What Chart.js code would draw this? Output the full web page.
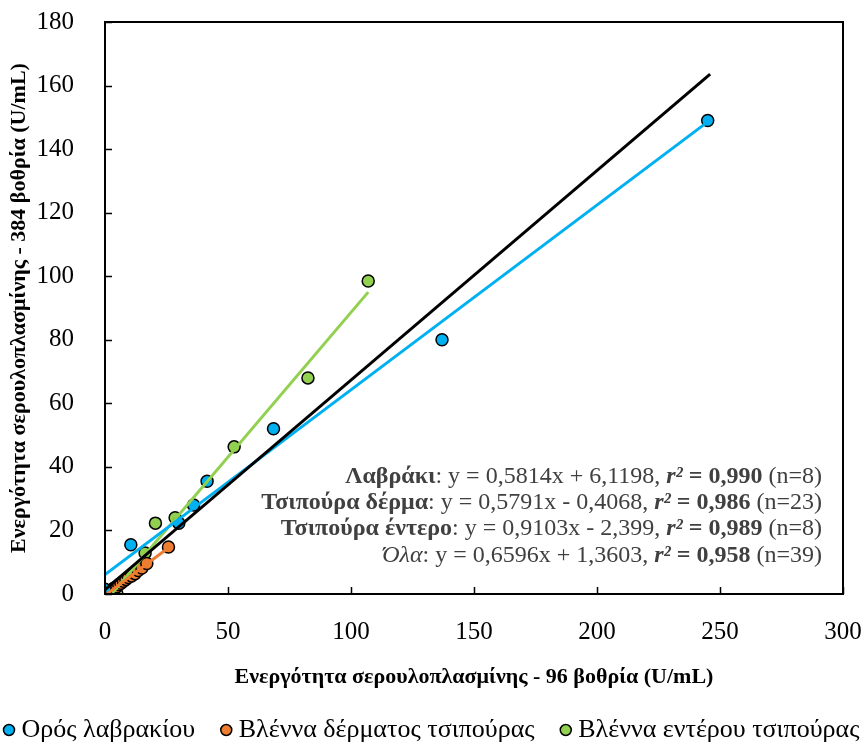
<!DOCTYPE html>
<html>
<head>
<meta charset="utf-8">
<script src="https://cdn.jsdelivr.net/npm/chart.js@4.4.1/dist/chart.umd.min.js"></script>
<style>
  html, body { margin: 0; padding: 0; background: #fff; }
  #wrap { width: 863px; height: 745px; }
</style>
</head>
<body>
<div id="wrap"><canvas id="chart1" width="863" height="745"></canvas></div>
<script>
// Λαβράκι (ορός)
let blueX = [0, 10.5, 30, 36, 41.5, 68.5, 137, 245]
let blueY = [1.5, 15.5, 22.3, 28, 35.5, 52, 80, 149]
// Τσιπούρα δέρμα
let orangeX = [0.2, 0.4, 0.6, 0.9, 1.2, 1.5, 1.9, 2.3, 2.8, 3.3, 4, 4.8, 5.6, 6.5, 7.5, 8.5, 9.5, 10.8, 12.2, 13.5, 15, 17, 25.8]
let orangeY = [0, 0.1, 0.2, 0.3, 0.4, 0.5, 0.7, 1, 1.3, 1.6, 2, 2.3, 2.9, 3.4, 4, 4.6, 5.2, 5.7, 6.4, 7.4, 8.2, 9.6, 14.8]
// Τσιπούρα έντερο
let greenX = [3, 4.9, 16.3, 20.5, 28.5, 52.5, 82.5, 107]
let greenY = [0.5, 0, 12.9, 22.3, 24, 46.3, 68, 98.5]

let seriesNames = ['Ορός λαβρακίου', 'Βλέννα δέρματος τσιπούρας', 'Βλέννα εντέρου τσιπούρας']
let seriesColors = ['#00B0F0', '#ED7D31', '#92D050']

// trend lines: slope, intercept, x range
let trendSlope = [0.5814, 0.5791, 0.9103, 0.6596]
let trendIntercept = [6.1198, -0.4068, -2.399, 1.3603]
let trendFrom = [0, 0, 3, 0]
let trendTo = [245, 25.8, 107, 246]
let trendColors = ['#00B0F0', '#ED7D31', '#92D050', '#000000']

let xTicks = [0, 50, 100, 150, 200, 250, 300]
let yTicks = [0, 20, 40, 60, 80, 100, 120, 140, 160, 180]

let annoLines = [
  [['Λαβράκι', 'bold'], [': y = 0,5814x + 6,1198, ', ''], ['r²', 'italic bold'], [' = 0,990', 'bold'], [' (n=8)', '']],
  [['Τσιπούρα δέρμα', 'bold'], [': y = 0,5791x - 0,4068, ', ''], ['r²', 'italic bold'], [' = 0,986', 'bold'], [' (n=23)', '']],
  [['Τσιπούρα έντερο', 'bold'], [': y = 0,9103x - 2,399, ', ''], ['r²', 'italic bold'], [' = 0,989', 'bold'], [' (n=8)', '']],
  [['Όλα', 'italic'], [': y = 0,6596x + 1,3603, ', ''], ['r²', 'italic bold'], [' = 0,958', 'bold'], [' (n=39)', '']]
]

const FONT = '"Liberation Serif", "Times New Roman", serif'
Chart.defaults.font.family = FONT
Chart.defaults.color = '#000'

function pts(xs, ys) { return xs.map((x, i) => ({x: x, y: ys[i]})) }

let datasets = []
let pointSets = [[blueX, blueY], [orangeX, orangeY], [greenX, greenY]]
pointSets.forEach((s, i) => {
  datasets.push({
    type: 'scatter',
    label: seriesNames[i],
    data: pts(s[0], s[1]),
    backgroundColor: seriesColors[i],
    borderColor: '#000',
    borderWidth: 1.5,
    pointRadius: 6,
    order: 2
  })
})
trendSlope.forEach((m, i) => {
  datasets.push({
    type: 'line',
    label: 'trend' + i,
    data: [{x: trendFrom[i], y: m * trendFrom[i] + trendIntercept[i]}, {x: trendTo[i], y: m * trendTo[i] + trendIntercept[i]}],
    borderColor: trendColors[i],
    borderWidth: 3,
    pointRadius: 0,
    fill: false,
    order: i == 3 ? 0 : 1
  })
})

let framePlugin = {
  id: 'frame',
  afterDraw(chart) {
    let ctx = chart.ctx, a = chart.chartArea
    let sx = chart.scales.x, sy = chart.scales.y
    ctx.save()
    ctx.strokeStyle = '#000'
    ctx.lineWidth = 2
    ctx.strokeRect(a.left, a.top, a.right - a.left, a.bottom - a.top)
    ctx.lineWidth = 1.5
    ctx.beginPath()
    xTicks.forEach(v => {
      let px = Math.round(sx.getPixelForValue(v)) + 0.5
      ctx.moveTo(px, a.bottom); ctx.lineTo(px, a.bottom - 7)
    })
    yTicks.forEach(v => {
      let py = Math.round(sy.getPixelForValue(v)) + 0.5
      ctx.moveTo(a.left, py); ctx.lineTo(a.left + 7, py)
    })
    ctx.stroke()

    // equations text, right aligned
    ctx.fillStyle = '#404040'
    ctx.textBaseline = 'middle'
    let right = a.right - 21
    let y0 = sy.getPixelForValue(37)
    annoLines.forEach((line, li) => {
      let widths = line.map(seg => { ctx.font = (seg[1] ? seg[1] + ' ' : '') + '24px ' + FONT; return ctx.measureText(seg[0]).width })
      let total = widths.reduce((p, c) => p + c, 0)
      let x = right - total
      line.forEach((seg, si) => {
        ctx.font = (seg[1] ? seg[1] + ' ' : '') + '24px ' + FONT
        ctx.fillText(seg[0], x, y0 + li * 26.3)
        x += widths[si]
      })
    })

    // legend at the bottom, spread across the full width
    let dotGap = 7, r = 5.5, size = 26
    let widths, textSum
    do {
      ctx.font = size + 'px ' + FONT
      widths = seriesNames.map(n => ctx.measureText(n).width)
      textSum = widths.reduce((p, c) => p + c, 0) + seriesNames.length * (2 * r + dotGap)
      size -= 0.5
    } while (textSum > 815 && size > 12)
    let gap = Math.max(18, (856 - textSum) / (seriesNames.length - 1))
    let total = textSum + gap * (seriesNames.length - 1)
    let lx = (chart.width - total) / 2
    let ly = 730
    seriesNames.forEach((n, i) => {
      ctx.beginPath()
      ctx.arc(lx + r, ly, r, 0, Math.PI * 2)
      ctx.fillStyle = seriesColors[i]
      ctx.fill()
      ctx.lineWidth = 1.5
      ctx.strokeStyle = '#000'
      ctx.stroke()
      ctx.fillStyle = '#000'
      ctx.fillText(n, lx + 2 * r + dotGap, ly)
      lx += 2 * r + dotGap + widths[i] + gap
    })
    ctx.restore()
  }
}

let chart = new Chart(document.getElementById('chart1').getContext('2d'), {
  data: { datasets: datasets },
  options: {
    responsive: false,
    animation: false,
    layout: { padding: { left: 0, right: 20, top: 22, bottom: 46 } },
    plugins: {
      tooltip: { enabled: false },
      legend: { display: false }
    },
    scales: {
      x: {
        type: 'linear',
        min: 0, max: 300,
        afterBuildTicks: s => { s.ticks = xTicks.map(v => ({value: v})) },
        afterFit: s => { s.height = 105; s.paddingLeft = 0; s.paddingRight = 0 },
        grid: { display: false },
        border: { display: false },
        ticks: { color: '#000', padding: 15, maxRotation: 0, font: { family: FONT, size: 25 } },
        title: { display: true, text: 'Ενεργότητα σερουλοπλασμίνης - 96 βοθρία (U/mL)', color: '#000', padding: { top: 10, bottom: 8 }, font: { family: FONT, size: 22, weight: 'bold' } }
      },
      y: {
        type: 'linear',
        min: 0, max: 180,
        afterBuildTicks: s => { s.ticks = yTicks.map(v => ({value: v})) },
        afterFit: s => { s.width = 105; s.paddingTop = 0; s.paddingBottom = 0 },
        grid: { display: false },
        border: { display: false },
        ticks: { color: '#000', padding: 23, font: { family: FONT, size: 25 } },
        title: { display: true, text: 'Ενεργότητα σερουλοπλασμίνης - 384 βοθρία (U/mL)', color: '#000', padding: { top: 6, bottom: 0 }, font: { family: FONT, size: 22, weight: 'bold' } }
      }
    }
  },
  plugins: [framePlugin]
})
</script>
</body>
</html>
